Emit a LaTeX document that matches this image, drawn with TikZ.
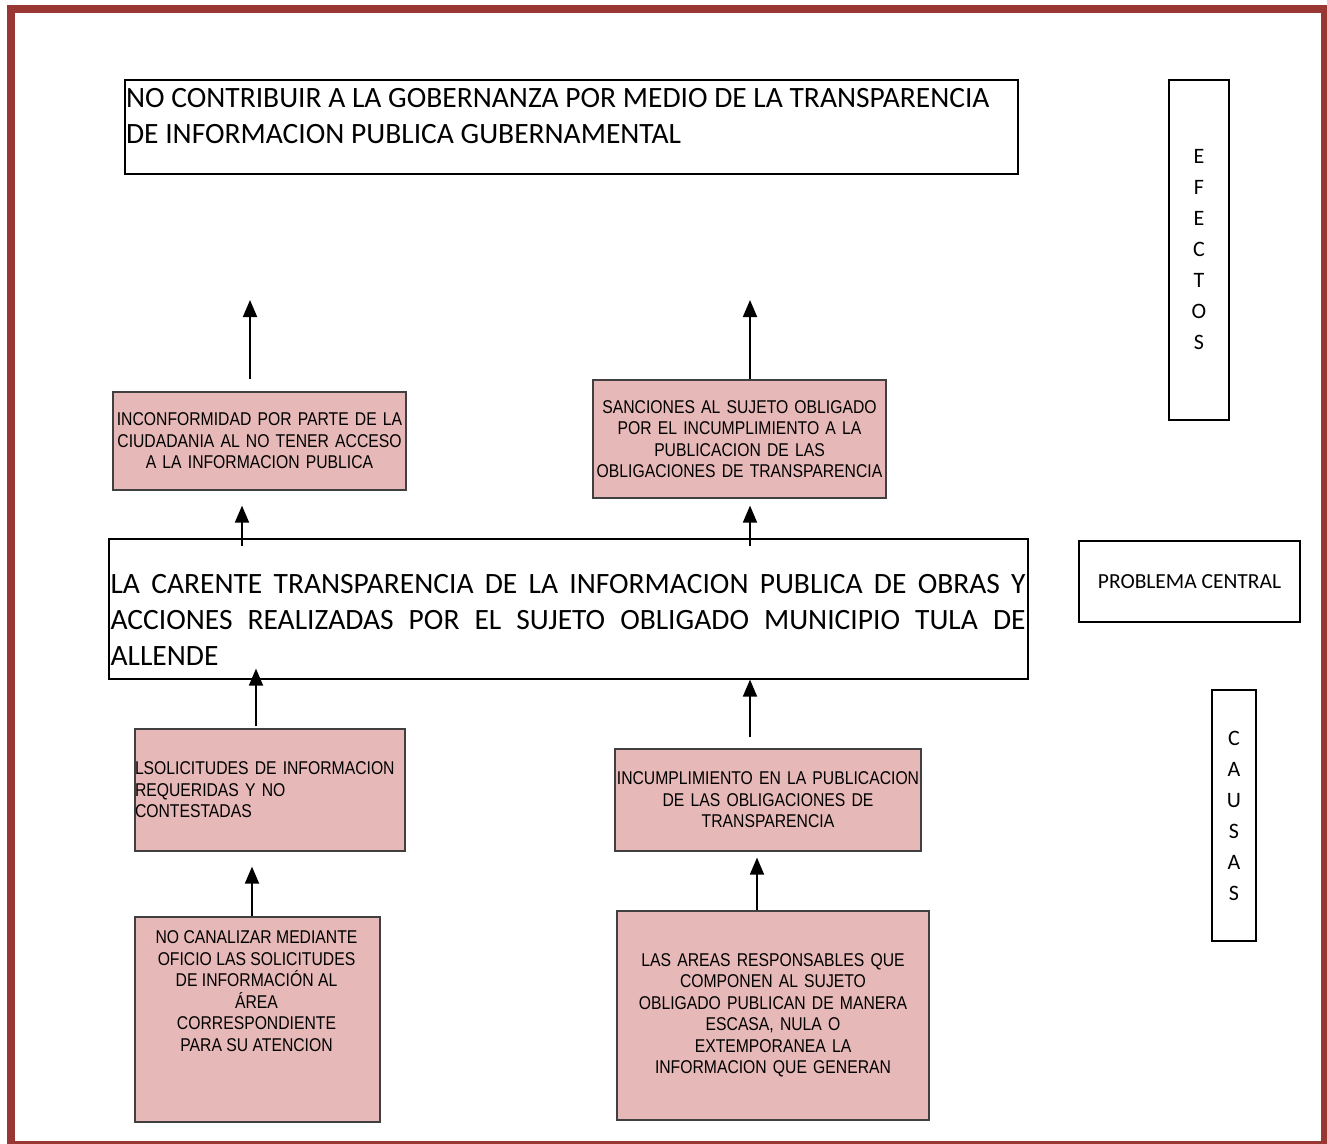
\documentclass[tikz,border=0pt]{standalone}
\usepackage{fontspec}
\usepackage{tikz}
\usetikzlibrary{arrows.meta,calc}
\setmainfont{Carlito}
\newfontfamily\boxfont[FakeStretch=0.85]{Liberation Sans}
\definecolor{framered}{RGB}{153,55,53}
\definecolor{pinkfill}{RGB}{230,184,183}
\definecolor{boxline}{RGB}{64,64,64}

\begin{document}
\begin{tikzpicture}[x=1pt,y=-1pt,
    linebox/.style={draw=black,line width=1.2pt,inner sep=0pt},
    pinkbox/.style={draw=boxline,line width=1.2pt,fill=pinkfill,inner sep=0pt,align=center,
        font={\boxfont\fontsize{18.5}{21.5}\selectfont}},
    upline/.style={line width=1.8pt,-{Triangle[length=17pt,width=14pt]}}]
    \useasboundingbox (0,0) rectangle (1327,1143);
    \clip (0,0) rectangle (1327,1143);
    \fill[white] (0,0) rectangle (1327,1143);
    \draw[framered,line width=8pt] (11,9) rectangle (1325,1145);

    % efectos
    \node[linebox,minimum width=893pt,minimum height=94pt] (goal) at (571.5,127) {};
    \node[anchor=north west,align=left,inner sep=0pt,font=\fontsize{29.5}{36}\selectfont] (goaltxt)
        at ($(goal.north west)+(1.5,9)$) {NO CONTRIBUIR A LA GOBERNANZA POR MEDIO DE LA TRANSPARENCIA\\DE INFORMACION PUBLICA GUBERNAMENTAL};
    \node[linebox,minimum width=60pt,minimum height=340pt,align=center,font=\fontsize{22}{31}\selectfont] (efectos)
        at (1199,250) {E\\F\\E\\C\\T\\O\\S};
    \node[pinkbox,text width=293pt,minimum height=98pt] (inc) at (259.5,441)
        {INCONFORMIDAD POR PARTE DE LA\\CIUDADANIA AL NO TENER ACCESO\\A LA INFORMACION PUBLICA};
    \node[pinkbox,text width=293pt,minimum height=118pt] (sanc) at (739.5,439)
        {SANCIONES AL SUJETO OBLIGADO\\POR EL INCUMPLIMIENTO A LA\\PUBLICACION DE LAS\\OBLIGACIONES DE TRANSPARENCIA};

    % problema central
    \node[linebox,minimum width=919pt,minimum height=140pt] (central) at (568.5,609) {};
    \node[anchor=north west,align=justify,text width=915pt,inner sep=0pt,font=\fontsize{29.5}{36}\selectfont] (centraltxt)
        at ($(central.north west)+(2,36)$) {LA CARENTE TRANSPARENCIA DE LA INFORMACION PUBLICA DE OBRAS Y\linebreak
        ACCIONES REALIZADAS POR EL SUJETO OBLIGADO MUNICIPIO TULA DE\linebreak ALLENDE};
    \node[linebox,minimum width=221pt,minimum height=81pt,font=\fontsize{21.5}{25}\selectfont] (problema)
        at (1189.5,581.5) {PROBLEMA CENTRAL};

    % causas
    \node[linebox,minimum width=44pt,minimum height=251pt,align=center,font=\fontsize{22}{31}\selectfont] (causas)
        at (1234,815.5) {C\\A\\U\\S\\A\\S};
    \node[pinkbox,text width=270pt,minimum height=122pt,align=left] (solic) at (270,790)
        {LSOLICITUDES DE INFORMACION\\REQUERIDAS Y NO\\CONTESTADAS};
    \node[pinkbox,text width=306pt,minimum height=102pt] (incum) at (768,800)
        {INCUMPLIMIENTO EN LA PUBLICACION\\DE LAS OBLIGACIONES DE\\TRANSPARENCIA};
    \node[pinkbox,minimum width=245pt,minimum height=205pt] (canal) at (257.5,1019.5) {};
    \node[align=center,anchor=north,inner sep=0pt,font={\boxfont\fontsize{18.5}{21.5}\selectfont}] (canaltxt)
        at ($(canal.north)+(-1,14)$) {NO CANALIZAR MEDIANTE\\OFICIO LAS SOLICITUDES\\DE INFORMACIÓN AL\\ÁREA\\CORRESPONDIENTE\\PARA SU ATENCION};
    \node[pinkbox,text width=312pt,minimum height=209pt] (areas) at (773,1015.5)
        {LAS AREAS RESPONSABLES QUE\\COMPONEN AL SUJETO\\OBLIGADO PUBLICAN DE MANERA\\ESCASA, NULA O\\EXTEMPORANEA LA\\INFORMACION QUE GENERAN};

    % flechas
    \coordinate (upA) at (250,300);
    \coordinate (upB) at (750,300);
    \draw[upline] ($(inc.north)+(-9.5,-12)$) -- (upA);
    \draw[upline] ($(sanc.north)+(10.5,0)$) -- (upB);
    \draw[upline] ($(central.north -| inc.south)+(-17.5,8)$) -- ($(inc.south)+(-17.5,15)$);
    \draw[upline] ($(central.north -| sanc.south)+(10.5,8)$) -- ($(sanc.south)+(10.5,7)$);
    \draw[upline] ($(solic.north)+(-14,-2)$) -- ($(central.south -| solic.north)+(-14,-11)$);
    \draw[upline] ($(incum.north)+(-18,-11)$) -- ($(central.south -| incum.north)+(-18,0)$);
    \draw[upline] ($(canal.north)+(-5.5,0)$) -- ($(solic.south -| canal.north)+(-5.5,15)$);
    \draw[upline] ($(areas.north)+(-16,0)$) -- ($(incum.south -| areas.north)+(-16,6)$);
\end{tikzpicture}
\end{document}
